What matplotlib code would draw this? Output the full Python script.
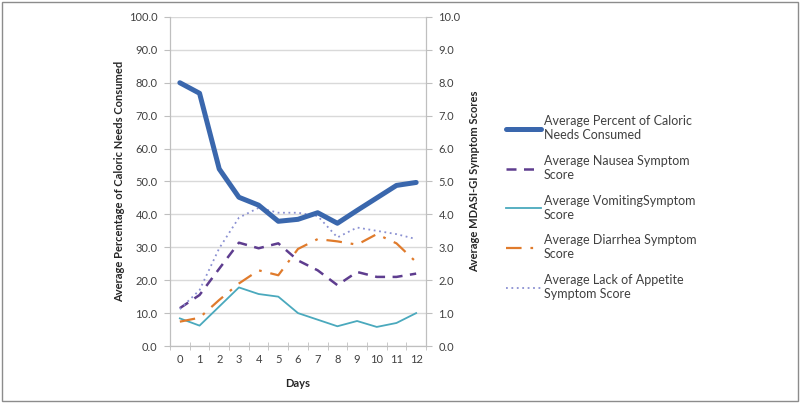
import matplotlib
matplotlib.use("Agg")
import matplotlib.pyplot as plt
from matplotlib.patches import Rectangle
from matplotlib.ticker import FixedLocator, FormatStrFormatter

plt.rcParams['font.family'] = ['Lato', 'DejaVu Sans']

days = list(range(13))
day_labels = [str(d) for d in days]
caloric = [80.0, 76.8, 53.8, 45.2, 42.8, 37.9, 38.5, 40.5, 37.3, 41.2, 45.0, 48.8, 49.7]
nausea = [1.15, 1.55, 2.35, 3.14, 2.97, 3.12, 2.6, 2.3, 1.85, 2.25, 2.1, 2.1, 2.2]
vomiting = [0.84, 0.62, 1.2, 1.78, 1.58, 1.5, 1.0, 0.8, 0.6, 0.76, 0.58, 0.7, 1.0]
diarrhea = [0.74, 0.86, 1.4, 1.9, 2.3, 2.15, 2.95, 3.25, 3.18, 3.08, 3.4, 3.12, 2.55]
appetite = [1.12, 1.7, 2.97, 3.9, 4.2, 4.05, 4.05, 3.95, 3.3, 3.6, 3.5, 3.4, 3.25]

labels = ["Average Percent of Caloric\nNeeds Consumed",
          "Average Nausea Symptom\nScore",
          "Average VomitingSymptom\nScore",
          "Average Diarrhea Symptom\nScore",
          "Average Lack of Appetite\nSymptom Score"]

fig = plt.figure(figsize=(8.0, 4.03), dpi=100)
fig.patches.append(Rectangle((0.003, 0.005), 0.994, 0.99, transform=fig.transFigure,
                             fill=False, edgecolor='#8c8c8c', linewidth=1.0))
ax = fig.add_axes([0.2125, 0.1414, 0.32, 0.8166])
ax2 = ax.twinx()

grid_c = '#d9d9d9'
spine_c = '#bfbfbf'
tick_c = '#404040'

ax.set_xlim(-0.5, 12.5)
ax.set_ylim(0, 100)
ax2.set_ylim(0, 10)
ax.set_yticks([i * 10 for i in range(11)])
ax2.set_yticks(range(11))
ax.yaxis.set_major_formatter(FormatStrFormatter('%.1f'))
ax2.yaxis.set_major_formatter(FormatStrFormatter('%.1f'))
ax.set_xticks(days)
ax.set_xticklabels(day_labels)
ax.xaxis.set_minor_locator(FixedLocator([d - 0.5 for d in range(14)]))
ax.tick_params(axis='x', which='major', length=0, labelsize=8, colors=tick_c, pad=6)
ax.tick_params(axis='x', which='minor', length=6, direction='inout', color=spine_c)
ax.tick_params(axis='y', length=4, color=spine_c, labelsize=8, labelcolor=tick_c, pad=5)
ax2.tick_params(axis='y', length=4, color=spine_c, labelsize=8, labelcolor=tick_c, pad=5)

ax.grid(axis='y', color=grid_c, linewidth=1.0)
ax.set_axisbelow(True)
for a in (ax, ax2):
    a.spines['top'].set_visible(False)
    for s in ('left', 'right', 'bottom'):
        a.spines[s].set_color(spine_c)
ax2.set_zorder(ax.get_zorder() + 1)
ax.patch.set_visible(False)

# Caloric values are on the left (0-100) scale; draw them on the right axes in matching units
l1, = ax2.plot(days, [c / 10 for c in caloric], color='#3a67ad', linewidth=3.6,
               solid_capstyle='round', zorder=5)
l2, = ax2.plot(days, nausea, color='#5e3d8f', linewidth=1.8, dashes=(4, 3))
l3, = ax2.plot(days, vomiting, color='#4aa9bd', linewidth=1.3)
l4, = ax2.plot(days, diarrhea, color='#e07b2c', linewidth=1.6, dashes=(7, 4, 1.2, 4))
l5, = ax2.plot(days, appetite, color='#8a90d2', linewidth=1.3, dashes=(1, 2))

ax.set_xlabel('Days', fontsize=8, fontweight='bold', color='#262626', labelpad=9)
ax.set_ylabel('Average Percentage of Caloric Needs Consumed', fontsize=8, fontweight='bold',
              color='#262626', labelpad=3)
ax2.set_ylabel('Average MDASI-GI Symptom Scores', fontsize=8, fontweight='bold',
               color='#262626', labelpad=6)

fig.legend([l1, l2, l3, l4, l5], labels, loc='upper left', bbox_to_anchor=(0.619, 0.742),
           frameon=False, fontsize=9, handlelength=2.8, handletextpad=0.2,
           labelspacing=1.1, labelcolor='#404040')

fig.savefig('out.png', dpi=100)
